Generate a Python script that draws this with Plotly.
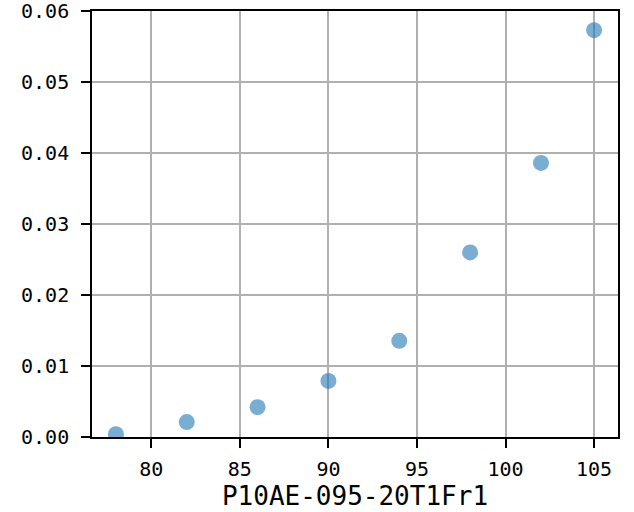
import plotly.graph_objects as go

x_vals = [78, 82, 86, 90, 94, 98, 102, 105]
y_vals = [0.0004, 0.0021, 0.0042, 0.0079, 0.01355, 0.0260, 0.0386, 0.0573]
x_ticks = [80, 85, 90, 95, 100, 105]
y_ticks = [0.00, 0.01, 0.02, 0.03, 0.04, 0.05, 0.06]
x_label = "P10AE-095-20T1Fr1"

FONT = "DejaVu Sans Mono"

fig = go.Figure()
fig.add_trace(go.Scatter(
    x=x_vals, y=y_vals, mode="markers",
    marker=dict(size=16, color="rgba(31,119,180,0.6)", line=dict(width=0)),
    showlegend=False,
))

axis_common = dict(
    showline=True, linecolor="black", linewidth=1.6, mirror=True,
    showgrid=True, gridcolor="#b0b0b0", gridwidth=1.5,
    ticks="outside", ticklen=9, tickwidth=1.6, tickcolor="black",
    zeroline=False, automargin=False, ticklabeloverflow="allow",
    tickfont=dict(family=FONT, size=20, color="black"),
)

fig.update_layout(
    width=634, height=512,
    margin=dict(l=92, r=16, t=11, b=75),
    paper_bgcolor="white", plot_bgcolor="white",
    xaxis=dict(
        range=[76.65, 106.35], tickvals=x_ticks,
        title=dict(text=x_label, font=dict(family=FONT, size=26, color="black"), standoff=4),
        ticklabelstandoff=4,
        **axis_common,
    ),
    yaxis=dict(
        range=[0, 0.06], tickvals=y_ticks, tickformat=".2f",
        ticklabelstandoff=8,
        **axis_common,
    ),
)

fig.write_html(
    "out.html",
    config={"displayModeBar": False},
    post_script="document.body.style.margin='0';document.body.style.overflow='hidden';",
)
